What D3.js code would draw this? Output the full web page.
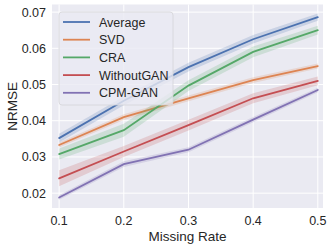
<!DOCTYPE html>
<html>
<head>
<meta charset="utf-8">
<script src="https://cdn.jsdelivr.net/npm/d3@7"></script>
<style>
  body { margin: 0; background: #fff; }
  svg text { font-family: "Liberation Sans", Arial, sans-serif; fill: #262626; }
</style>
</head>
<body>
<svg width="332" height="249"></svg>
<script>
const rates = [0.1, 0.2, 0.3, 0.4, 0.5];
const names = ['Average', 'SVD', 'CRA', 'WithoutGAN', 'CPM-GAN'];
const colors = ['#4C72B0', '#DD8452', '#55A868', '#C44E52', '#8172B3'];
const avgVals = [0.0352, 0.0455, 0.0548, 0.0625, 0.0686];
const svdVals = [0.0333, 0.0410, 0.0462, 0.0512, 0.0551];
const craVals = [0.0308, 0.0374, 0.0497, 0.0590, 0.0650];
const woganVals = [0.0241, 0.0315, 0.0388, 0.0462, 0.0510];
const cpmVals = [0.0188, 0.0280, 0.0320, 0.0403, 0.0485];
// half widths of the shaded bands
const avgErr = [0.0012, 0.0012, 0.0012, 0.0012, 0.0010];
const svdErr = [0.0007, 0.0008, 0.0008, 0.0008, 0.0007];
const craErr = [0.0015, 0.0018, 0.0015, 0.0015, 0.0012];
const woganErr = [0.0022, 0.0015, 0.0015, 0.0014, 0.0012];
const cpmErr = [0.0006, 0.0008, 0.0007, 0.0007, 0.0006];
const xTicks = [0.1, 0.2, 0.3, 0.4, 0.5];
const yTicks = [0.02, 0.03, 0.04, 0.05, 0.06, 0.07];

const series = [
  { vals: avgVals, err: avgErr },
  { vals: svdVals, err: svdErr },
  { vals: craVals, err: craErr },
  { vals: woganVals, err: woganErr },
  { vals: cpmVals, err: cpmErr }
];

const pLeft = 52, pRight = 323, pTop = 4.5, pBottom = 208;
const x = d3.scaleLinear().domain([0.089, 0.508]).range([pLeft, pRight]);
const y = d3.scaleLinear().domain([0.0159, 0.0721]).range([pBottom, pTop]);

const svg = d3.select('svg');

svg.append('rect')
    .attr('x', pLeft).attr('y', pTop)
    .attr('width', pRight - pLeft).attr('height', pBottom - pTop)
    .attr('fill', '#EAEAF2');

// grid
svg.append('g').selectAll('line')
    .data(xTicks).enter().append('line')
    .attr('x1', d => x(d)).attr('x2', d => x(d))
    .attr('y1', pTop).attr('y2', pBottom)
    .attr('stroke', '#fff').attr('stroke-width', 1);
svg.append('g').selectAll('line')
    .data(yTicks).enter().append('line')
    .attr('x1', pLeft).attr('x2', pRight)
    .attr('y1', d => y(d)).attr('y2', d => y(d))
    .attr('stroke', '#fff').attr('stroke-width', 1);

// tick labels
svg.append('g').selectAll('text')
    .data(xTicks).enter().append('text')
    .attr('x', d => x(d)).attr('y', 225)
    .attr('text-anchor', 'middle')
    .style('font-size', '12.5px')
    .text(d => d3.format('.1f')(d));
svg.append('g').selectAll('text')
    .data(yTicks).enter().append('text')
    .attr('x', 46).attr('y', d => y(d) + 4.5)
    .attr('text-anchor', 'end')
    .style('font-size', '12.5px')
    .text(d => d3.format('.2f')(d));

svg.append('text')
    .attr('x', (pLeft + pRight) / 2).attr('y', 241)
    .attr('text-anchor', 'middle')
    .style('font-size', '13.5px')
    .text('Missing Rate');
svg.append('text')
    .attr('transform', `translate(17,${(pTop + pBottom) / 2}) rotate(-90)`)
    .attr('text-anchor', 'middle')
    .style('font-size', '13.5px')
    .text('NRMSE');

const area = d3.area()
    .x((d, i) => x(rates[i]))
    .y0(d => y(d[0] - d[1]))
    .y1(d => y(d[0] + d[1]));
const line = d3.line()
    .x((d, i) => x(rates[i]))
    .y(d => y(d));

series.forEach((s, k) => {
  svg.append('path')
      .datum(s.vals.map((v, i) => [v, s.err[i]]))
      .attr('d', area)
      .attr('fill', colors[k])
      .attr('fill-opacity', 0.2);
  svg.append('path')
      .datum(s.vals)
      .attr('d', line)
      .attr('fill', 'none')
      .attr('stroke', colors[k])
      .attr('stroke-width', 1.8)
      .attr('stroke-linecap', 'round');
});

// legend
const lg = svg.append('g');
lg.append('rect')
    .attr('x', 59).attr('y', 12)
    .attr('width', 114).attr('height', 93)
    .attr('rx', 3)
    .attr('fill', '#EAEAF2').attr('fill-opacity', 0.8)
    .attr('stroke', '#d4d4d8').attr('stroke-width', 0.8);
names.forEach((n, k) => {
  const yy = 22 + k * 17.7;
  lg.append('line')
      .attr('x1', 63).attr('x2', 90)
      .attr('y1', yy).attr('y2', yy)
      .attr('stroke', colors[k]).attr('stroke-width', 1.8);
  lg.append('text')
      .attr('x', 99).attr('y', yy + 4.5)
      .style('font-size', '12.5px')
      .text(n);
});
</script>
</body>
</html>
